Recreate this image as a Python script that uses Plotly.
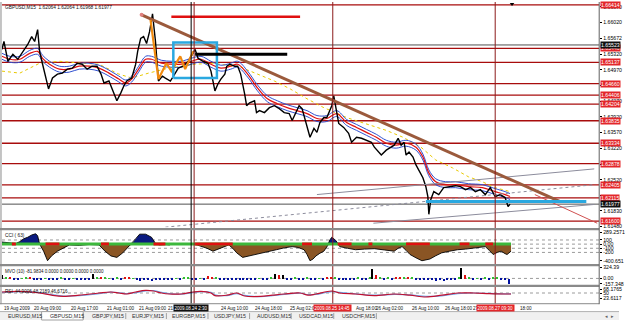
import plotly.graph_objects as go
import numpy as np

# ---------------- data ----------------
bar_x = [2,4,8,13,18,23,28,32,35,38,40,43,47,49,53,58,63,68,73,78,83,88,93,98,102,105,110,115,118,122,125,128,133,137,139,142,145,148,151,154,157,160,164,167,172,177,180,185,190,193,197,200,205,210,213,215,217,220,223,227,229,232,237,240,243,247,249,252,257,259,262,267,272,277,282,287,292,295,298,302,305,308,311,313,317,320,323,327,330,333,335,337,340,342,347,352,355,360,365,370,375,378,382,385,390,395,398,402,405,408,410,413,417,420,423,427,430,432,433,435,438,443,448,453,460,465,470,475,480,485,490,495,500,505,510,513,515]
close = [1.65424,1.656,1.6516,1.65314,1.65204,1.6538,1.65534,1.6571,1.656,1.65864,1.6538,1.65094,1.6472,1.64544,1.64786,1.64874,1.64896,1.64984,1.65006,1.65116,1.65094,1.64984,1.6505,1.6505,1.64874,1.64676,1.6472,1.64456,1.6428,1.64456,1.6461,1.6472,1.64786,1.65094,1.6538,1.65666,1.6571,1.65556,1.6582,1.66216,1.656,1.6472,1.6483,1.64786,1.6472,1.64896,1.65006,1.6505,1.6516,1.6527,1.65424,1.65226,1.6516,1.65116,1.6494,1.6472,1.645,1.64654,1.64764,1.64874,1.6505,1.65094,1.6505,1.6505,1.64874,1.64434,1.6417,1.64236,1.6428,1.64016,1.6406,1.64016,1.64126,1.6417,1.64104,1.64016,1.63994,1.6384,1.63994,1.6417,1.64104,1.6384,1.6362,1.63466,1.63664,1.63576,1.63796,1.63906,1.63906,1.6406,1.6417,1.6439,1.6406,1.63774,1.63686,1.63554,1.63356,1.63466,1.63444,1.634,1.63356,1.63246,1.63136,1.6307,1.6318,1.63246,1.6329,1.63444,1.6329,1.63356,1.6307,1.63136,1.63026,1.6285,1.6274,1.62564,1.62366,1.62146,1.6175,1.6208,1.62256,1.6219,1.62344,1.62366,1.62388,1.62366,1.623,1.62344,1.62256,1.623,1.6219,1.62344,1.62146,1.6219,1.62124,1.61926,1.61977]

ma_x = [2,10,20,30,38,43,50,60,70,80,90,100,110,120,127,133,140,147,153,163,173,183,193,203,213,223,233,240,250,260,270,280,290,300,310,320,330,340,350,360,370,380,390,400,410,420,427,433,440,450,460,473,487,500,510,515]
ma_red = [1.6527,1.65204,1.65204,1.65336,1.6538,1.65226,1.65094,1.64984,1.64984,1.6505,1.6505,1.65006,1.64896,1.64764,1.64676,1.64764,1.64984,1.65204,1.65204,1.65116,1.65094,1.65094,1.6516,1.65204,1.65094,1.65006,1.6505,1.65094,1.64874,1.64566,1.64324,1.64214,1.64126,1.6406,1.63994,1.63884,1.63884,1.63994,1.63796,1.63686,1.63576,1.63466,1.63334,1.6329,1.63334,1.63246,1.63026,1.62674,1.62476,1.6241,1.6241,1.62366,1.62344,1.62256,1.6219,1.62146]
ma_blue_up = [1.65336,1.6527,1.6527,1.65402,1.65446,1.65292,1.6516,1.6505,1.6505,1.65116,1.65116,1.65072,1.64962,1.6483,1.64742,1.6483,1.6505,1.6527,1.6527,1.65182,1.6516,1.6516,1.65226,1.6527,1.6516,1.65072,1.65116,1.6516,1.6494,1.64632,1.6439,1.6428,1.64192,1.64126,1.6406,1.6395,1.6395,1.6406,1.63862,1.63752,1.63642,1.63532,1.634,1.63356,1.634,1.63312,1.63092,1.6274,1.62542,1.62476,1.62476,1.62432,1.6241,1.62322,1.62256,1.62212]
ma_blue_dn = [1.65204,1.65138,1.65138,1.6527,1.65314,1.6516,1.65028,1.64918,1.64918,1.64984,1.64984,1.6494,1.6483,1.64698,1.6461,1.64698,1.64918,1.65138,1.65138,1.6505,1.65028,1.65028,1.65094,1.65138,1.65028,1.6494,1.64984,1.65028,1.64808,1.645,1.64258,1.64148,1.6406,1.63994,1.63928,1.63818,1.63818,1.63928,1.6373,1.6362,1.6351,1.634,1.63268,1.63224,1.63268,1.6318,1.6296,1.62608,1.6241,1.62344,1.62344,1.623,1.62278,1.6219,1.62124,1.6208]

slow_x = [2,20,40,60,83,100,120,133,150,170,197,215,243,260,277,293,310,327,350,390,407,425,440,457,473,487,500,515]
slow_ma = [1.6494,1.64896,1.65116,1.6516,1.65116,1.65094,1.64874,1.64786,1.64896,1.65006,1.65094,1.65116,1.65028,1.64874,1.6472,1.64544,1.64324,1.64126,1.63906,1.6362,1.63466,1.63246,1.6296,1.62784,1.62586,1.62476,1.62344,1.62256]

levels = [1.66414,1.65446,1.65137,1.6466,1.64406,1.64204,1.63835,1.63334,1.62878,1.62405,1.62115,1.616]
level_labels = ["1.66414","1.65446","1.65137","1.64660","1.64406","1.64204","1.63835","1.63334","1.62878","1.62405","1.62115","1.61600"]
dark_levels = [1.65523, 1.61977]
dark_labels = ["1.65523", "1.61977"]

price_ticks = [1.6637,1.6602,1.65672,1.6532,1.6497,1.6462,1.6427,1.6392,1.6357,1.6322,1.6287,1.6252,1.6217,1.6183,1.6148]
price_tick_text = ["1.66370","1.66020","1.65672","1.65320","1.64970","","1.64270","1.63920","1.63570","1.63220","","1.62520","","1.61830","1.61480"]

trend_x = [143, 565]; trend_y = [1.66194, 1.62036]
trend2_x = [540, 603]; trend2_y = [1.6219, 1.61552]
chan1_x = [320, 600]; chan1_y = [1.6219, 1.62762]
chan2_x = [167, 600]; chan2_y = [1.61464, 1.6241]
chan3_x = [377, 600]; chan3_y = [1.61552, 1.6197]
zig_x = [152,160,168,173,182,187,195]
zig_y = [1.66084,1.64764,1.65116,1.6494,1.6527,1.64984,1.6538]
box_x = [175, 219]; box_y = [1.64786, 1.65578]
redseg_x = [173, 303]; redseg_y = [1.6615, 1.6615]
blackseg_x = [197, 290]; blackseg_y = [1.65314, 1.65314]
cyan_x = [430, 592]; cyan_y = [1.62036, 1.62036]

vline_x = [193, 196, 336, 500]
vline_col = ["#000000", "#8b1a1a", "#8b1a1a", "#8b1a1a"]

cci_x = [2,8,12,16,20,24,28,32,36,38,40,44,48,52,58,64,70,80,90,100,106,112,118,124,130,134,137,141,147,153,157,161,166,171,175,183,191,199,205,209,215,219,223,231,235,239,245,251,257,263,271,279,287,295,301,307,310,313,316,319,323,327,331,333,335,339,341,343,351,359,368,378,388,398,402,406,410,414,420,426,430,434,440,446,454,462,470,478,484,490,494,498,502,506,510,512,516]
cci = [50,40,30,15,60,130,165,220,250,200,0,-170,-400,-285,-170,-100,-20,-30,-10,-20,-170,-285,-320,-210,-60,30,130,240,240,165,15,-20,-10,-20,15,10,15,-20,-60,-100,-170,-130,-100,-20,-100,-210,-320,-285,-250,-210,-170,-135,-90,-60,-80,-135,-250,-400,-360,-285,-220,-170,-30,100,165,90,20,-60,-100,-135,-120,-110,-140,-170,-100,-60,-150,-250,-330,-400,-380,-360,-280,-210,-170,-135,-120,-100,-80,-60,-150,-250,-200,-170,-230,-250,-170]
cci_red_start = [12,46,102,155,197,305,341,372,410,464,490]
cci_red_end = [16,60,110,167,235,315,355,376,434,474,498]
cci_ticks = [289.2571,100,0,-100,-200,-400.651]
cci_tick_text = ["289.2571","100","0.00","-100","-200","-400.651"]

mvo_x = [2,6,10,14,18,22,26,30,34,38,42,46,50,54,58,62,66,70,74,78,82,86,90,94,98,102,106,110,114,118,122,126,130,134,138,142,146,150,154,158,162,166,170,174,178,182,186,190,194,198,202,206,210,214,218,222,226,230,234,238,242,246,250,254,258,262,266,270,274,278,282,286,290,294,298,302,306,310,314,318,322,326,330,334,338,342,346,350,354,358,362,366,370,374,376,380,384,388,392,396,400,404,408,412,416,420,424,428,432,436,440,444,448,452,456,460,464,466,470,474,478,482,486,490,494,498,502,506,510,514]
mvo = [120,60,30,-20,-30,20,50,40,-20,-40,-30,20,-25,-40,-30,25,-30,-20,15,-35,-45,-30,-50,150,50,30,35,20,-20,30,-15,40,60,20,-40,-55,-50,-45,-60,-40,-50,-35,-45,-30,15,-25,30,25,-20,-30,20,-25,70,60,30,-20,-35,-40,-30,-45,-30,-50,-40,-35,-25,20,-30,-25,30,150,100,120,-30,-40,40,-20,-35,30,-30,-20,20,-25,30,40,25,-20,-30,-25,-35,-30,25,-30,-20,60,300,100,50,-20,30,-25,40,60,30,50,40,-25,-35,-45,-50,-40,-55,-45,-60,-50,-40,-35,40,324,120,50,-20,20,-15,30,-20,25,30,-15,-20,-157]
mvo_kind = ["k","g","r","b","b","g","g","r","b","b","b","g","b","b","b","g","b","b","g","b","b","b","b","k","g","r","g","g","b","g","b","r","r","g","b","b","b","b","b","b","b","b","b","b","g","b","g","g","b","b","g","b","r","r","g","b","b","b","b","b","b","b","b","b","b","g","b","b","g","k","r","k","b","b","g","b","b","g","b","b","g","b","r","r","g","b","b","b","b","b","g","b","b","g","k","r","g","b","g","b","r","r","g","r","g","b","b","b","b","b","b","b","b","b","b","b","g","k","r","g","b","g","b","g","b","g","g","b","b","b"]
mvo_ticks = [324.39, 0, -157.348]
mvo_tick_text = ["324.39", "0.00", "-157.348"]

rsi_x = [2,20,40,52,64,80,100,112,120,128,137,147,155,163,171,183,195,203,213,217,229,239,247,263,275,287,303,311,319,335,343,359,378,398,414,430,446,462,478,494,510,516]
rsi_red = [55,58,50,39,33,39,50,55,50,45,55,63,60,50,45,45,55,58,50,37,39,50,35,33,39,45,50,39,45,60,50,45,37,45,39,30,39,50,50,47,45,45]
rsi_blue = [53,57,52,42,35,37,47,54,52,47,52,61,62,53,47,44,52,57,53,41,37,47,38,32,37,43,49,42,43,57,53,46,39,43,41,33,36,47,50,48,46,46]
rsi_ticks = [68.1765, 50, 23.6117]
rsi_tick_text = ["68.1765", "50", "23.6117"]

time_pos = [2,32,70,106,138,168,221,255,291,357,378,414,447,476,523]
time_text = ["19 Aug 2009","20 Aug 09:00","20 Aug 17:00","21 Aug 01:00","21 Aug 09:00","21 Aug","24 Aug 10:00","24 Aug 18:00","25 Aug 02:00","Aug 18:00","26 Aug 02:00","26 Aug 10:00","26 Aug 18:00","27","18:00"]
vline_tag = ["2009.08.24 2:30", None, "2009.08.25 14:45", "2009.08.27 09:30"]

tabs = ["EURUSD,M15","GBPUSD,M15","GBPJPY,M15","EURJPY,M15","EURGBP,M15","USDJPY,M15","AUDUSD,M15","USDCAD,M15","USDCHF,M15"]
tab_start = [6,48,91,131,172,214,257,300,343]
tab_sep = [42,84,127,168,210,252,294,337,380]

# ---------------- figure ----------------
W, H = 625, 322
FONT = "Liberation Sans"
def py(p):
    return 1 - p / H

fig = go.Figure()

# main panel
fig.add_trace(go.Scatter(x=slow_x, y=slow_ma, mode="lines", line=dict(color="#e8c800", width=1, dash="dot"), yaxis="y"))
fig.add_trace(go.Scatter(x=ma_x, y=ma_blue_up, mode="lines", line=dict(color="#3050d0", width=1, shape="spline"), yaxis="y"))
fig.add_trace(go.Scatter(x=ma_x, y=ma_blue_dn, mode="lines", line=dict(color="#3050d0", width=1, shape="spline"), yaxis="y"))
fig.add_trace(go.Scatter(x=ma_x, y=ma_red, mode="lines", line=dict(color="#e01010", width=1.2, shape="spline"), yaxis="y"))
fig.add_trace(go.Scatter(x=bar_x, y=close, mode="lines", line=dict(color="#000000", width=1.4), yaxis="y"))

fig.add_trace(go.Scatter(x=chan1_x, y=chan1_y, mode="lines", line=dict(color="#8c8c9c", width=1), yaxis="y"))
fig.add_trace(go.Scatter(x=chan2_x, y=chan2_y, mode="lines", line=dict(color="#8c8c9c", width=1, dash="dot"), yaxis="y"))
fig.add_trace(go.Scatter(x=chan3_x, y=chan3_y, mode="lines", line=dict(color="#8c8c9c", width=1), yaxis="y"))
fig.add_trace(go.Scatter(x=trend2_x, y=trend2_y, mode="lines", line=dict(color="#d05050", width=1), yaxis="y"))
fig.add_trace(go.Scatter(x=trend_x, y=trend_y, mode="lines", line=dict(color="#9b5a3c", width=3), yaxis="y"))
fig.add_trace(go.Scatter(x=trend_x[:1], y=trend_y[:1], mode="markers", marker=dict(color="#e08080", size=4), yaxis="y"))
fig.add_trace(go.Scatter(x=zig_x, y=zig_y, mode="lines", line=dict(color="#f08a10", width=2.2), yaxis="y"))
fig.add_trace(go.Scatter(x=[box_x[0], box_x[1], box_x[1], box_x[0], box_x[0]],
                         y=[box_y[0], box_y[0], box_y[1], box_y[1], box_y[0]],
                         mode="lines", line=dict(color="#2aa8e0", width=2.5), yaxis="y"))
fig.add_trace(go.Scatter(x=redseg_x, y=redseg_y, mode="lines", line=dict(color="#e01010", width=2.5), yaxis="y"))
fig.add_trace(go.Scatter(x=blackseg_x, y=blackseg_y, mode="lines", line=dict(color="#000000", width=3), yaxis="y"))
fig.add_trace(go.Scatter(x=cyan_x, y=cyan_y, mode="lines", line=dict(color="#2aa8e0", width=3), yaxis="y"))
fig.add_trace(go.Scatter(x=[517], y=[1.66436], mode="markers", marker=dict(symbol="triangle-down", color="black", size=4), yaxis="y"))

# CCI panel
cci_arr = np.array(cci, dtype=float)
fig.add_trace(go.Scatter(x=cci_x, y=np.minimum(cci_arr, 0), mode="lines", line=dict(width=0), fill="tozeroy", fillcolor="#8a5524", yaxis="y2"))
fig.add_trace(go.Scatter(x=cci_x, y=np.maximum(cci_arr, 0), mode="lines", line=dict(width=0), fill="tozeroy", fillcolor="#0a1a80", yaxis="y2"))
fig.add_trace(go.Scatter(x=cci_x, y=cci, mode="lines", line=dict(color="#000000", width=0.9), yaxis="y2"))
fig.add_trace(go.Scatter(x=[cci_x[0], cci_x[-1]], y=[0, 0], mode="lines", line=dict(color="#3cb83c", width=3), yaxis="y2"))
rx, ry = [], []
for s, e in zip(cci_red_start, cci_red_end):
    rx += [s, e, None]; ry += [0, 0, None]
fig.add_trace(go.Scatter(x=rx, y=ry, mode="lines", line=dict(color="#e01010", width=3), yaxis="y2"))

# MVO panel
cmap = {"b": "#0010a0", "g": "#30c030", "r": "#e01010", "k": "#000000"}
fig.add_trace(go.Bar(x=mvo_x, y=mvo, width=1.4, marker=dict(color=[cmap[k] for k in mvo_kind], line=dict(width=0)), yaxis="y3"))

# RSI panel
fig.add_trace(go.Scatter(x=rsi_x, y=rsi_blue, mode="lines", line=dict(color="#70a8e8", width=1.2, shape="spline"), yaxis="y4"))
fig.add_trace(go.Scatter(x=rsi_x, y=rsi_red, mode="lines", line=dict(color="#c01030", width=1.2, shape="spline"), yaxis="y4"))

tickfont = dict(family=FONT, size=5.2, color="#000000")
axis_common = dict(side="right", anchor="x", showgrid=False, zeroline=False, ticks="outside",
                   ticklen=2, tickcolor="#000", tickfont=tickfont, showline=False, fixedrange=True)

fig.update_layout(
    width=W, height=H, margin=dict(l=0, r=0, t=0, b=0),
    paper_bgcolor="white", plot_bgcolor="white", showlegend=False, bargap=0,
    xaxis=dict(domain=[2 / W, 605 / W], range=[2, 605], anchor="y4", showticklabels=False,
               showgrid=False, zeroline=False, ticks=""),
    yaxis=dict(domain=[py(228), py(1)], range=[1.61464, 1.66458], tickvals=price_ticks,
               ticktext=price_tick_text, **axis_common),
    yaxis2=dict(domain=[py(265), py(231)], range=[-472, 337], tickvals=cci_ticks,
                ticktext=cci_tick_text, **axis_common),
    yaxis3=dict(domain=[py(286), py(268)], range=[-180, 350], tickvals=mvo_ticks,
                ticktext=mvo_tick_text, **axis_common),
    yaxis4=dict(domain=[py(302), py(289)], range=[13.7, 78.1], tickvals=rsi_ticks,
                ticktext=rsi_tick_text, **axis_common),
)

shapes = []
for lv in levels:
    shapes.append(dict(type="line", xref="x", x0=2, x1=605, yref="y", y0=lv, y1=lv,
                       line=dict(color="#a80c0c", width=1.3), layer="below"))
for lv in dark_levels:
    shapes.append(dict(type="line", xref="x", x0=2, x1=605, yref="y", y0=lv, y1=lv,
                       line=dict(color="#505050", width=1), layer="below"))
for v in [100, 0, -100, -200]:
    shapes.append(dict(type="line", xref="x", x0=2, x1=605, yref="y2", y0=v, y1=v,
                       line=dict(color="#9a9a9a", width=1, dash="dot"), layer="below"))
shapes.append(dict(type="line", xref="x", x0=2, x1=605, yref="y3", y0=0, y1=0,
                   line=dict(color="#9a9a9a", width=1, dash="dot"), layer="below"))
shapes.append(dict(type="line", xref="x", x0=2, x1=605, yref="y4", y0=50, y1=50,
                   line=dict(color="#9a9a9a", width=1, dash="dot"), layer="below"))
for vx, vc in zip(vline_x, vline_col):
    shapes.append(dict(type="line", xref="x", x0=vx, x1=vx, yref="paper", y0=py(306), y1=1,
                       line=dict(color=vc, width=1), layer="above"))
for sep in [230, 266.5, 287.5]:
    shapes.append(dict(type="line", xref="paper", x0=0, x1=605 / W, yref="paper", y0=py(sep), y1=py(sep),
                       line=dict(color="#8a8a8a", width=2.2)))
shapes.append(dict(type="line", xref="paper", x0=0, x1=605 / W, yref="paper", y0=py(305.5), y1=py(305.5),
                   line=dict(color="#8a8a8a", width=1)))
shapes.append(dict(type="line", xref="paper", x0=605 / W, x1=605 / W, yref="paper", y0=py(306), y1=1,
                   line=dict(color="#606060", width=1)))
shapes.append(dict(type="line", xref="paper", x0=1 / W, x1=1 / W, yref="paper", y0=py(306), y1=1,
                   line=dict(color="#8a8a8a", width=1)))
shapes.append(dict(type="rect", xref="paper", x0=0, x1=1, yref="paper", y0=0, y1=py(313.5),
                   fillcolor="#f0f0f0", line=dict(width=0)))
shapes.append(dict(type="line", xref="paper", x0=0, x1=1, yref="paper", y0=py(313.5), y1=py(313.5),
                   line=dict(color="#b0b0b0", width=1)))
shapes.append(dict(type="rect", xref="paper", x0=tab_sep[0] / W, x1=tab_sep[1] / W, yref="paper",
                   y0=0, y1=py(313.5), fillcolor="#ffffff", line=dict(color="#a0a0a0", width=1)))
for s in tab_sep[1:]:
    shapes.append(dict(type="line", xref="paper", x0=s / W, x1=s / W, yref="paper", y0=py(321), y1=py(315),
                       line=dict(color="#a0a0a0", width=1)))
fig.update_layout(shapes=shapes)

ann = []
def lbl(size):
    return dict(family=FONT, size=size, color="#101010")
ann.append(dict(text="GBPUSD,M15  1.62064 1.62064 1.61968 1.61977", xref="paper", yref="paper",
                x=3 / W, y=py(1.5), xanchor="left", yanchor="top", showarrow=False, font=lbl(4.8)))
ann.append(dict(text="CCI ( 63)", xref="paper", yref="paper", x=3 / W, y=py(232), xanchor="left",
                yanchor="top", showarrow=False, font=lbl(4.8)))
ann.append(dict(text="MVO (10) -81.9834 0.0000 0.0000 0.0000 0.0000", xref="paper", yref="paper",
                x=3 / W, y=py(268.5), xanchor="left", yanchor="top", showarrow=False, font=lbl(4.5)))
ann.append(dict(text="RSI  44.9006 48.2189 46.6716", xref="paper", yref="paper", x=3 / W, y=py(289),
                xanchor="left", yanchor="top", showarrow=False, font=lbl(4.6)))
for lv, lt in zip(levels, level_labels):
    ann.append(dict(text=lt, xref="paper", yref="y", x=606 / W, y=lv, xanchor="left", yanchor="middle",
                    showarrow=False, bgcolor="#e3262a", borderpad=0,
                    font=dict(family=FONT, size=5.2, color="#ffffff")))
for lv, lt in zip(dark_levels, dark_labels):
    ann.append(dict(text=lt, xref="paper", yref="y", x=606 / W, y=lv, xanchor="left", yanchor="middle",
                    showarrow=False, bgcolor="#101010", borderpad=0,
                    font=dict(family=FONT, size=5.2, color="#ffffff")))
for tp, tt in zip(time_pos, time_text):
    ann.append(dict(text=tt, xref="x", yref="paper", x=tp, y=py(310), xanchor="left", yanchor="middle",
                    showarrow=False, font=lbl(4.6)))
for vx, tag, vc in zip(vline_x, vline_tag, vline_col):
    if tag is None:
        continue
    ann.append(dict(text=tag, xref="x", yref="paper", x=vx, y=py(310), xanchor="center", yanchor="middle",
                    showarrow=False, bgcolor=("#101010" if vc == "#000000" else "#e3262a"), borderpad=0.5,
                    font=dict(family=FONT, size=4.5, color="#ffffff")))
for s, t in zip(tab_start, tabs):
    ann.append(dict(text=t, xref="paper", yref="paper", x=s / W, y=py(318), xanchor="left", yanchor="middle",
                    showarrow=False, font=dict(family=FONT, size=5.3, color="#303030")))
ann.append(dict(text="\u25c2  \u25b8", xref="paper", yref="paper", x=609 / W, y=py(318), xanchor="left",
                yanchor="middle", showarrow=False, font=dict(family=FONT, size=5.3, color="#606060")))
fig.update_layout(annotations=ann)

fig.write_html("out.html")
